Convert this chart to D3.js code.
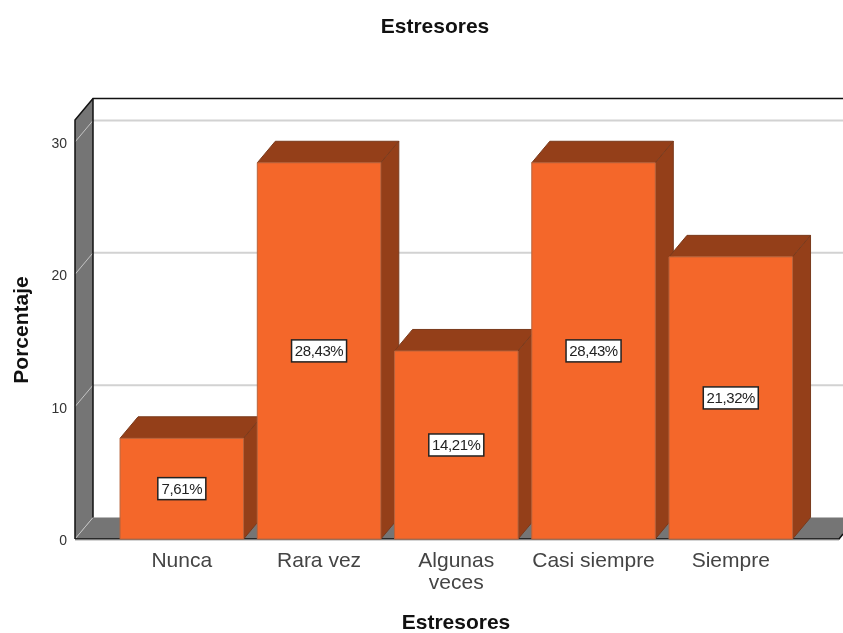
<!DOCTYPE html>
<meta charset="utf-8">
<script src="https://d3js.org/d3.v7.min.js"></script>
<style>
body { margin: 0; background: #fff; }
text { font-family: "Liberation Sans", Arial, sans-serif; }
svg { filter: blur(0.35px); }
</style>
<body>
<script>

// data
var categories = ["Nunca", "Rara vez", "Algunas veces", "Casi siempre", "Siempre"];
var values = [7.61, 28.43, 14.21, 28.43, 21.32];
var labels = ["7,61%", "28,43%", "14,21%", "28,43%", "21,32%"];
var yTicks = [0, 10, 20, 30];

var width = 843,
    height = 633;

// 3d offset of the chart box
var depthX = 18,
    depthY = 21.5;

var y = d3.scaleLinear().domain([0, 30]).range([539, 142]);
var x = d3.scaleBand().domain(categories).range([113.2, 799.4]).paddingInner(0.1).paddingOuter(0.05);
var yTop = 31.66;

var left = 75,
    right = 843,
    orange = "#f4672a",
    brown = "#943f19",
    edge = "#7a3a1c";

var svg = d3.select("body").append("svg")
    .attr("width", width)
    .attr("height", height)
    .style("display", "block");

function poly(pts, fill, stroke) {
  return svg.append("path")
    .attr("d", "M" + pts.join("L") + "Z")
    .attr("fill", fill)
    .attr("stroke", stroke || "none")
    .attr("stroke-width", 1);
}

// back grid lines
svg.selectAll("line.grid")
  .data(yTicks.filter(function(d) { return d > 0; }))
  .enter().append("line")
  .attr("class", "grid")
  .attr("x1", left + depthX)
  .attr("x2", right)
  .attr("y1", function(d) { return y(d) - depthY; })
  .attr("y2", function(d) { return y(d) - depthY; })
  .attr("stroke", "#d2d2d2")
  .attr("stroke-width", 2);

// left wall and floor
poly([[left, y(yTop)], [left + depthX, y(yTop) - depthY], [left + depthX, y(0) - depthY], [left, y(0)]], "#757575");
poly([[left, y(0)], [left + depthX, y(0) - depthY], [right, y(0) - depthY], [right, y(0) - 5], [839, y(0)]], "#757575");

// grid lines running over the wall
svg.selectAll("line.wall")
  .data(yTicks)
  .enter().append("line")
  .attr("class", "wall")
  .attr("x1", left)
  .attr("x2", left + depthX)
  .attr("y1", function(d) { return y(d); })
  .attr("y2", function(d) { return y(d) - depthY; })
  .attr("stroke", "#c4c4c4")
  .attr("stroke-width", 1);

// frame
svg.append("path")
  .attr("d", "M" + left + "," + y(0) + "V" + y(yTop) + "L" + (left + depthX) + "," + (y(yTop) - depthY) + "H" + right)
  .attr("fill", "none")
  .attr("stroke", "#111")
  .attr("stroke-width", 1.5);
svg.append("path")
  .attr("d", "M" + (left + depthX) + "," + (y(yTop) - depthY) + "V" + (y(0) - depthY))
  .attr("fill", "none")
  .attr("stroke", "#111")
  .attr("stroke-width", 1.5);
svg.append("path")
  .attr("d", "M" + left + "," + y(0) + "H839L" + right + "," + (y(0) - 5))
  .attr("fill", "none")
  .attr("stroke", "#111")
  .attr("stroke-width", 1.5);
svg.append("line")
  .attr("x1", left).attr("x2", 839)
  .attr("y1", y(0) + 1).attr("y2", y(0) + 1)
  .attr("stroke", "#aaa");

// bars, left to right so that each one covers the side of the one before
categories.forEach(function(c, i) {
  var x0 = x(c),
      x1 = x0 + x.bandwidth(),
      t = y(values[i]),
      b = y(0);
  poly([[x0, t], [x0 + depthX, t - depthY], [x1 + depthX, t - depthY], [x1, t]], brown, edge);
  poly([[x1, t], [x1 + depthX, t - depthY], [x1 + depthX, b - depthY], [x1, b]], brown, edge);
  poly([[x0, t], [x1, t], [x1, b], [x0, b]], orange, "#b9643c");

  var cx = (x0 + x1) / 2,
      cy = (t + b) / 2,
      w = labels[i].length > 5 ? 55 : 48;
  svg.append("rect")
    .attr("x", cx - w / 2)
    .attr("y", cy - 11)
    .attr("width", w)
    .attr("height", 22)
    .attr("fill", "#fff")
    .attr("stroke", "#222")
    .attr("stroke-width", 1.5);
  svg.append("text")
    .attr("x", cx)
    .attr("y", cy + 5)
    .attr("text-anchor", "middle")
    .style("font-size", "15px")
    .style("letter-spacing", "-0.4px")
    .attr("fill", "#222")
    .text(labels[i]);
});

// y tick labels
svg.selectAll("text.ytick")
  .data(yTicks)
  .enter().append("text")
  .attr("class", "ytick")
  .attr("x", 67)
  .attr("y", function(d) { return y(d) + 6; })
  .attr("text-anchor", "end")
  .style("font-size", "14px")
  .attr("fill", "#333")
  .text(function(d) { return d; });

// category labels, long names are broken in two lines
categories.forEach(function(c) {
  var lines = c === "Algunas veces" ? c.split(" ") : [c];
  var tx = svg.append("text")
    .attr("text-anchor", "middle")
    .style("font-size", "21px")
    .attr("fill", "#444");
  lines.forEach(function(l, j) {
    tx.append("tspan")
      .attr("x", x(c) + x.bandwidth() / 2)
      .attr("y", 567 + j * 22)
      .text(l);
  });
});

// titles
svg.append("text")
  .attr("x", 435).attr("y", 33)
  .attr("text-anchor", "middle")
  .style("font-size", "21px")
  .style("font-weight", "bold")
  .attr("fill", "#111")
  .text("Estresores");
svg.append("text")
  .attr("x", 456).attr("y", 628.5)
  .attr("text-anchor", "middle")
  .style("font-size", "21px")
  .style("font-weight", "bold")
  .attr("fill", "#111")
  .text("Estresores");
svg.append("text")
  .attr("transform", "translate(28,330) rotate(-90)")
  .attr("text-anchor", "middle")
  .style("font-size", "21px")
  .style("font-weight", "bold")
  .attr("fill", "#111")
  .text("Porcentaje");

</script>
</body>
</html>
